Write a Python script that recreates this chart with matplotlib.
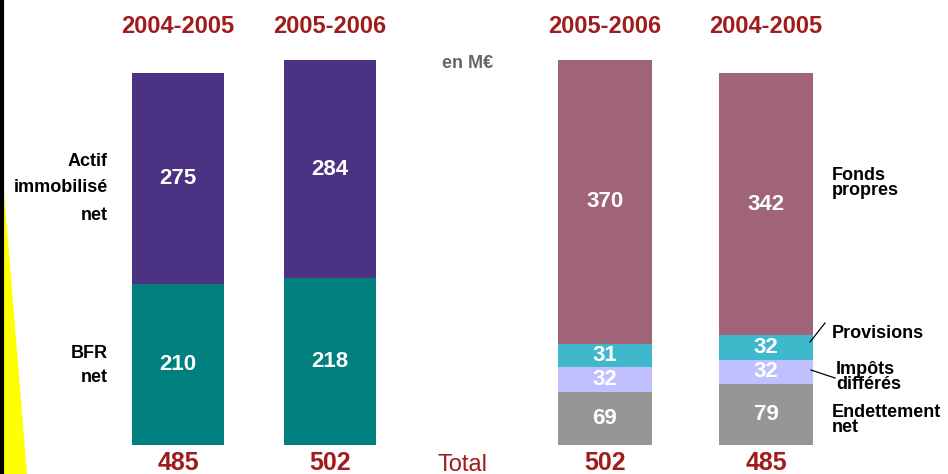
import matplotlib.pyplot as plt
from matplotlib.patches import Polygon

plt.rcParams['font.family'] = ['Liberation Sans', 'DejaVu Sans']

# left side: assets (actif)
left_years = ['2004-2005', '2005-2006']
bfr_net = [210, 218]
actif_immo = [275, 284]
left_totals = [485, 502]

# right side: liabilities (passif)
right_years = ['2005-2006', '2004-2005']
endettement = [69, 79]
impots_differes = [32, 32]
provisions = [31, 32]
fonds_propres = [370, 342]
right_totals = [502, 485]

c_purple = '#4b3282'
c_teal = '#007f7f'
c_mauve = '#a06478'
c_cyan = '#40b8cc'
c_lav = '#c0c0ff'
c_gray = '#969696'
c_red = '#a01c1c'

fig = plt.figure(figsize=(9.48, 4.74), dpi=100)
ax = fig.add_axes([0, 0, 1, 1])
scale = 0.765  # px per M€
y0 = 444.5      # pixel row of zero
ax.set_xlim(0, 948)
ax.set_ylim(-(474 - y0) / scale, y0 / scale)
ax.axis('off')

# left border and yellow wedge
fig.add_artist(plt.Line2D([1.5 / 948, 1.5 / 948], [0, 1], color='black', lw=3,
                          transform=fig.transFigure))
fig.add_artist(Polygon([(3 / 948, 1 - 180 / 474), (3 / 948, 0), (27 / 948, 0)],
                       closed=True, color='#ffff00', transform=fig.transFigure, lw=0))

left_x = [178, 330]
right_x = [605, 766]
w = 92

for i, x in enumerate(left_x):
    ax.bar(x, bfr_net[i], width=w, color=c_teal)
    ax.bar(x, actif_immo[i], width=w, bottom=bfr_net[i], color=c_purple)
    ax.text(x, bfr_net[i] / 2, str(bfr_net[i]), color='white', ha='center', va='center',
            fontsize=16, fontweight='bold')
    ax.text(x, bfr_net[i] + actif_immo[i] / 2, str(actif_immo[i]), color='white',
            ha='center', va='center', fontsize=16, fontweight='bold')
    ax.text(x, 575 - 22 / scale - 0.0, left_years[i], color=c_red, ha='center', va='center',
            fontsize=17, fontweight='bold')
    ax.text(x, -24, str(left_totals[i]), color=c_red, ha='center', va='center',
            fontsize=18, fontweight='bold')

for i, x in enumerate(right_x):
    segs = [(endettement[i], c_gray), (impots_differes[i], c_lav),
            (provisions[i], c_cyan), (fonds_propres[i], c_mauve)]
    bottom = 0
    for val, col in segs:
        ax.bar(x, val, width=w + 2, bottom=bottom, color=col)
        ax.text(x, bottom + val / 2, str(val), color='white', ha='center', va='center',
                fontsize=16, fontweight='bold')
        bottom += val
    ax.text(x, 575 - 22 / scale, right_years[i], color=c_red, ha='center', va='center',
            fontsize=17, fontweight='bold')
    ax.text(x, -24, str(right_totals[i]), color=c_red, ha='center', va='center',
            fontsize=18, fontweight='bold')

ax.text(463, -27, 'Total', color=c_red, ha='center', va='center', fontsize=17)
ax.text(468, (y0 - 64) / scale, 'en M€', color='#666666', ha='center', va='center',
        fontsize=13, fontweight='bold')


def py(p):
    return (y0 - p) / scale


# left labels
for txt, p in [('Actif', 162), ('immobilisé', 188), ('net', 215), ('BFR', 353), ('net', 378)]:
    ax.text(108, py(p), txt, ha='right', va='center', fontsize=13, fontweight='bold')

# right labels
ax.text(832, py(183), 'Fonds\npropres', ha='left', va='center', fontsize=13,
        fontweight='bold', linespacing=0.9)
ax.text(832, py(333), 'Provisions', ha='left', va='center', fontsize=13, fontweight='bold')
ax.text(836, py(377), 'Impôts\ndifférés', ha='left', va='center', fontsize=13,
        fontweight='bold', linespacing=0.9)
ax.text(832, py(420), 'Endettement\nnet', ha='left', va='center', fontsize=13,
        fontweight='bold', linespacing=0.9)
ax.plot([810, 825], [py(342), py(323)], color='black', lw=0.9)
ax.plot([811, 835], [py(370), py(378)], color='black', lw=0.9)

fig.savefig('out.png', dpi=100, facecolor='white')
